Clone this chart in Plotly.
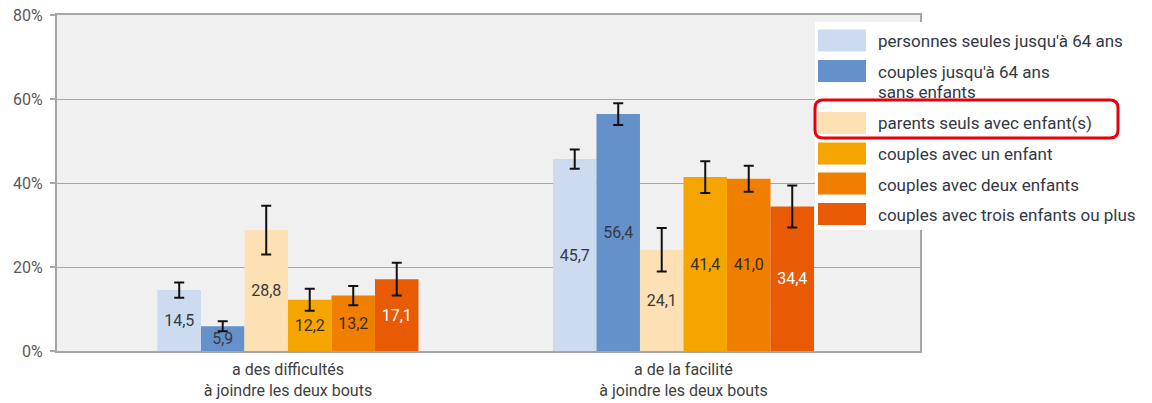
import plotly.graph_objects as go

categories = ["a des difficultés<br>à joindre les deux bouts", "a de la facilité<br>à joindre les deux bouts"]
series_names = [
    "personnes seules jusqu'à 64 ans",
    "couples jusqu'à 64 ans<br>sans enfants",
    "parents seuls avec enfant(s)",
    "couples avec un enfant",
    "couples avec deux enfants",
    "couples avec trois enfants ou plus",
]
values = [
    [14.5, 45.7],
    [5.9, 56.4],
    [28.8, 24.1],
    [12.2, 41.4],
    [13.2, 41.0],
    [17.1, 34.4],
]
errors = [
    [1.8, 2.3],
    [1.2, 2.6],
    [5.8, 5.2],
    [2.6, 3.8],
    [2.3, 3.1],
    [3.9, 5.0],
]
colors = ["#cddbf1", "#6591cb", "#fde0b3", "#f6a500", "#f07f00", "#e95a05"]
text_colors = ["#333a45", "#333a45", "#3a3a3a", "#3a3020", "#3a2a1a", "#ffffff"]
y_ticks = [0, 20, 40, 60, 80]
y_tick_labels = [f"{v}%" for v in y_ticks]

FONT = "Roboto"
W_PX, H_PX = 1152, 403
L, R, T, B = 57, 232, 15, 52
PW = W_PX - L - R
PH = H_PX - T - B


def px2x(px):
    return (px - L) / PW


def py2y(py):
    return (H_PX - B - py) / PH


fig = go.Figure()
for i, name in enumerate(series_names):
    fig.add_trace(go.Bar(
        x=categories,
        y=values[i],
        name=name,
        marker=dict(color=colors[i], line=dict(width=0)),
        text=[f"{v:.1f}".replace(".", ",") for v in values[i]],
        textposition="inside",
        insidetextanchor="middle",
        textangle=0,
        textfont=dict(family=FONT, size=16, color=text_colors[i]),
        error_y=dict(type="data", array=errors[i], visible=True,
                     color="#111111", thickness=2, width=5),
        showlegend=False,
        hoverinfo="skip",
    ))

shapes = []
annotations = []

# legend background
shapes.append(dict(type="rect", xref="paper", yref="paper",
                   x0=px2x(815), x1=px2x(1150), y0=py2y(230), y1=py2y(22),
                   fillcolor="white", line=dict(width=0), layer="above"))

sw_centers = [40.5, 71, 123, 153.5, 183.5, 214]
txt_centers = [[41.0], [71.8, 92.0], [122.8], [153.8], [184.5], [214.5]]
for i, name in enumerate(series_names):
    c = sw_centers[i]
    shapes.append(dict(type="rect", xref="paper", yref="paper",
                       x0=px2x(818), x1=px2x(866), y0=py2y(c + 11), y1=py2y(c - 11),
                       fillcolor=colors[i], line=dict(width=0), layer="above"))
    for line_text, yc in zip(name.split("<br>"), txt_centers[i]):
        annotations.append(dict(xref="paper", yref="paper", x=px2x(876), y=py2y(yc),
                                text=line_text, showarrow=False, xanchor="left", yanchor="middle",
                                align="left",
                                font=dict(family=FONT, size=17, color="#333844")))

# red rounded highlight box
x0p, x1p, y0p, y1p, r = 815, 1118, 100, 138, 8
xa, xb = px2x(x0p), px2x(x1p)
ya, yb = py2y(y0p), py2y(y1p)  # ya top, yb bottom
rx = r / PW
ry = r / PH
path = (f"M{xa+rx},{ya} L{xb-rx},{ya} Q{xb},{ya} {xb},{ya-ry} "
        f"L{xb},{yb+ry} Q{xb},{yb} {xb-rx},{yb} L{xa+rx},{yb} "
        f"Q{xa},{yb} {xa},{yb+ry} L{xa},{ya-ry} Q{xa},{ya} {xa+rx},{ya} Z")
shapes.append(dict(type="path", xref="paper", yref="paper", path=path,
                   line=dict(color="#e8000b", width=3), layer="above"))

fig.update_layout(
    width=W_PX, height=H_PX,
    margin=dict(l=L, r=R, t=T, b=B, autoexpand=False),
    paper_bgcolor="white",
    plot_bgcolor="#f0f0f0",
    barmode="group",
    bargap=0.34,
    bargroupgap=0,
    font=dict(family=FONT),
    shapes=shapes,
    annotations=annotations,
)
fig.update_xaxes(
    type="category",
    range=[-0.584, 1.598],
    showline=True, linecolor="#a6a6a6", linewidth=2, mirror=True,
    ticks="", showgrid=False, automargin=False,
    ticklabelstandoff=3,
    tickfont=dict(family=FONT, size=16, color="#404040"),
)
fig.update_yaxes(
    range=[0, 80],
    tickmode="array",
    tickvals=y_ticks,
    ticktext=y_tick_labels,
    showline=True, linecolor="#a6a6a6", linewidth=2, mirror=True,
    ticks="outside", ticklen=5, tickcolor="#a6a6a6", tickwidth=1.5,
    showgrid=True, gridcolor="#a6a6a6", gridwidth=1.4,
    zeroline=False, automargin=False,
    ticklabelstandoff=4,
    tickfont=dict(family=FONT, size=16, color="#595959"),
)

fig.write_html("out.html", config={"displayModeBar": False},
               post_script="document.body.style.margin='0';document.body.style.padding='0';")
